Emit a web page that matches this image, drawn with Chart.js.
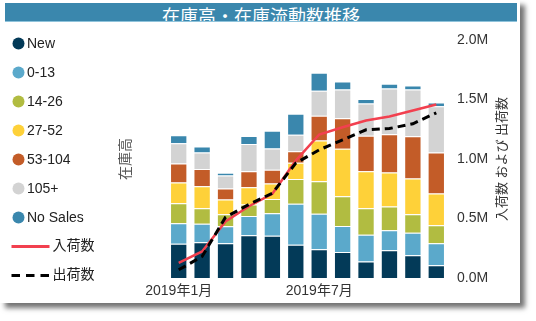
<!DOCTYPE html>
<html>
<head>
<meta charset="utf-8">
<script src="https://cdn.jsdelivr.net/npm/chart.js@4"></script>
<style>
  html, body { margin: 0; padding: 0; background: #ffffff; }
  #card {
    position: absolute; left: 0; top: 0; width: 520px; height: 303px;
    background: #ffffff; box-shadow: 5px 5px 5px rgba(0,0,0,0.55);
  }
  #title {
    position: absolute; left: 5px; top: 3px; width: 512px; height: 19px;
    box-sizing: border-box; border-bottom: 1px solid #8fc3db;
    background: #3a87ad; color: #ffffff; text-align: center;
    font-family: 'Noto Sans CJK JP', sans-serif; font-size: 18px; line-height: 19px;
    padding-top: 3px; white-space: nowrap; overflow: hidden;
  }
  #c { position: absolute; left: 0; top: 0; }
</style>
</head>
<body>
<div id="card">
  <canvas id="c" width="520" height="303"></canvas>
  <div id="title">在庫高・在庫流動数推移</div>
</div>
<script>
// ---- data (values in millions) ----
const months = ['2019年1月','2019年2月','2019年3月','2019年4月','2019年5月','2019年6月',
                '2019年7月','2019年8月','2019年9月','2019年10月','2019年11月','2019年12月'];
const shownMonthIdx = [0, 6];
const seriesNames = ['New','0-13','14-26','27-52','53-104','105+','No Sales'];
const newVals   = [0.287,0.301,0.292,0.360,0.355,0.279,0.242,0.218,0.139,0.234,0.192,0.108];
const age0_13   = [0.173,0.155,0.143,0.160,0.190,0.345,0.297,0.218,0.224,0.168,0.188,0.185];
const age14_26  = [0.168,0.131,0.101,0.098,0.118,0.207,0.274,0.252,0.224,0.199,0.156,0.151];
const age27_52  = [0.174,0.185,0.124,0.145,0.132,0.138,0.342,0.398,0.311,0.286,0.300,0.266];
const age53_104 = [0.160,0.143,0.092,0.134,0.115,0.097,0.208,0.257,0.297,0.322,0.355,0.345];
const age105p   = [0.171,0.140,0.109,0.230,0.179,0.138,0.210,0.241,0.271,0.384,0.392,0.389];
const noSales   = [0.067,0.050,0.023,0.067,0.149,0.176,0.151,0.067,0.039,0.039,0.034,0.031];
const inbound   = [0.128,0.223,0.475,0.603,0.708,0.987,1.206,1.267,1.324,1.357,1.408,1.458];
const outbound  = [0.069,0.181,0.511,0.618,0.713,0.965,1.077,1.161,1.245,1.256,1.296,1.388];
const inboundName = '入荷数';
const outboundName = '出荷数';
const rightTicks = [0, 0.5, 1.0, 1.5, 2.0];

const barColors = ['#033a58','#5ba9cb','#b1bc41','#fed139','#c35c28','#d3d3d3','#3a87ad'];
const FONT = "'Liberation Sans', Arial, 'Noto Sans CJK JP', sans-serif";
Chart.defaults.font.family = FONT;
Chart.defaults.font.size = 14;
Chart.defaults.color = '#333';

const barSeries = [newVals, age0_13, age14_26, age27_52, age53_104, age105p, noSales];
const datasets = barSeries.map((vals, i) => ({
  type: 'bar', label: seriesNames[i], data: vals, yAxisID: 'yBar',
  backgroundColor: barColors[i], borderColor: 'rgba(255,255,255,0.45)', borderWidth: 1,
  barPercentage: 0.74, categoryPercentage: 1.0, order: 3
}));
datasets.push({
  type: 'line', label: inboundName, data: inbound, yAxisID: 'y',
  borderColor: '#f2404f', borderWidth: 2.5, pointRadius: 0, tension: 0, fill: false, order: 1
});
datasets.push({
  type: 'line', label: outboundName, data: outbound, yAxisID: 'y',
  borderColor: '#000000', borderWidth: 3, borderDash: [8, 5], pointRadius: 0, tension: 0, fill: false, order: 0
});

const sidePlugin = {
  id: 'sideStuff',
  afterDraw(chart) {
    const ctx = chart.ctx;
    const ca = chart.chartArea;
    ctx.save();
    // legend
    ctx.font = '14px ' + FONT;
    ctx.textBaseline = 'middle';
    ctx.textAlign = 'left';
    chart.data.datasets.forEach((ds, i) => {
      const y = 43.5 + i * 29;
      if (ds.type === 'bar') {
        ctx.beginPath();
        ctx.arc(18.5, y, 6, 0, Math.PI * 2);
        ctx.fillStyle = ds.backgroundColor;
        ctx.fill();
        ctx.fillStyle = '#222';
        ctx.fillText(ds.label, 27, y + 0.5);
      } else {
        ctx.beginPath();
        ctx.strokeStyle = ds.borderColor;
        ctx.lineWidth = 3;
        ctx.setLineDash(ds.borderDash ? [8.5, 6] : []);
        ctx.moveTo(11.5, y);
        ctx.lineTo(49.5, y);
        ctx.stroke();
        ctx.setLineDash([]);
        ctx.fillStyle = '#222';
        ctx.fillText(ds.label, 52.5, y);
      }
    });
    // axis titles
    const cy = (ca.top + ca.bottom) / 2;
    ctx.textAlign = 'center';
    ctx.save();
    ctx.translate(126, cy);
    ctx.rotate(-Math.PI / 2);
    ctx.font = '14px ' + FONT;
    ctx.fillStyle = '#555';
    ctx.fillText('在庫高', 0, 0);
    ctx.restore();
    ctx.save();
    ctx.translate(502, cy);
    ctx.rotate(-Math.PI / 2);
    ctx.font = '13px ' + FONT;
    ctx.fillStyle = '#333';
    ctx.fillText('入荷数 および 出荷数', 0, 0);
    ctx.restore();
    ctx.restore();
  }
};

new Chart(document.getElementById('c'), {
  data: { labels: months, datasets: datasets },
  options: {
    responsive: false, animation: false,
    layout: { padding: { left: 167, top: 40, right: 0, bottom: 0 } },
    plugins: { legend: { display: false }, tooltip: { enabled: false }, title: { display: false } },
    scales: {
      x: {
        stacked: true, offset: true,
        grid: { display: false, drawTicks: false }, border: { display: false },
        ticks: {
          autoSkip: false, maxRotation: 0, padding: 5, color: '#333',
          callback: (v, i) => shownMonthIdx.includes(i) ? months[i] : ''
        },
        afterFit: s => { s.height = 25; }
      },
      yBar: {
        display: false, stacked: true, min: 0, max: 2.0, position: 'left'
      },
      y: {
        position: 'right', min: 0, max: 2.0,
        grid: { display: false, drawTicks: false }, border: { display: false },
        afterBuildTicks: s => { s.ticks = rightTicks.map(v => ({ value: v })); },
        ticks: { padding: 9, color: '#333', callback: v => v.toFixed(1) + 'M' },
        afterFit: s => { s.width = 72; }
      }
    }
  },
  plugins: [sidePlugin]
});
</script>
</body>
</html>
